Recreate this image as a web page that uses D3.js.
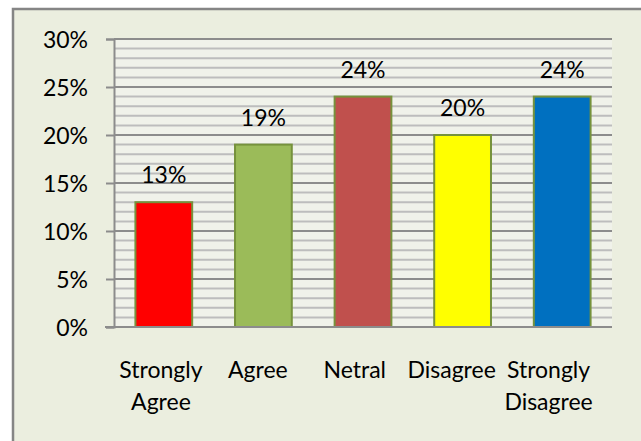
<!DOCTYPE html>
<html><head><meta charset="utf-8">
<script src="https://cdn.jsdelivr.net/npm/d3@7"></script>
<style>html,body{margin:0;padding:0;background:#fff;}svg{display:block;}</style>
</head><body>
<svg id="c" width="641" height="441"></svg>
<script>
const categories = ["Strongly Agree", "Agree", "Netral", "Disagree", "Strongly Disagree"];
const labelLines = [["Strongly", "Agree"], ["Agree"], ["Netral"], ["Disagree"], ["Strongly", "Disagree"]];
const values = [0.13, 0.19, 0.24, 0.20, 0.24];
const colors = ["#FF0000", "#9BBB59", "#C0504D", "#FFFF00", "#0070C0"];
const yTicks = [0, 0.05, 0.10, 0.15, 0.20, 0.25, 0.30];
const minorTicks = d3.range(0, 31).map(d => d / 100);

const svg = d3.select("#c");
const font = "Lato, 'Open Sans', sans-serif";
const fs = 23;

// chart area background and border
svg.append("rect").attr("x", 13).attr("y", 9).attr("width", 640).attr("height", 450)
  .attr("fill", "#EBEEDF").attr("stroke", "#858585").attr("stroke-width", 2.5);

const L = 114, R = 612, T = 39, B = 327;
const x = d3.scaleBand().domain(categories).range([L, R]).paddingInner(0.43).paddingOuter(0.215);
const xl = d3.scaleBand().domain(categories).range([L - 1.5, R - 15]);
const y = d3.scaleLinear().domain([0, 0.30]).range([B, T]);

svg.append("rect").attr("x", L).attr("y", T).attr("width", R - L).attr("height", B - T).attr("fill", "#F0F2EA");

// minor gridlines
svg.append("g").selectAll("line").data(minorTicks.filter(d => Math.round(d * 100) % 5 !== 0)).join("line")
  .attr("x1", L).attr("x2", R).attr("y1", d => y(d)).attr("y2", d => y(d))
  .attr("stroke", "#BDBDBD").attr("stroke-width", 2);
// major gridlines
svg.append("g").selectAll("line").data(yTicks.filter(d => d > 0)).join("line")
  .attr("x1", L).attr("x2", R).attr("y1", d => y(d)).attr("y2", d => y(d))
  .attr("stroke", "#8C8C8C").attr("stroke-width", 2);

// y axis
const yAxis = d3.axisLeft(y).tickValues(yTicks).tickSize(8).tickPadding(18).tickFormat(d3.format(".0%"));
const gy = svg.append("g").attr("transform", `translate(${L},0)`).call(yAxis);
gy.select(".domain").attr("stroke", "#8C8C8C").attr("stroke-width", 2);
gy.selectAll(".tick line").attr("stroke", "#8C8C8C").attr("stroke-width", 2);
gy.selectAll(".tick text").attr("font-family", font).attr("font-size", fs).attr("fill", "#000").attr("dy", "0.36em");

// bars
svg.append("g").selectAll("rect").data(values).join("rect")
  .attr("x", (d, i) => x(categories[i])).attr("width", x.bandwidth())
  .attr("y", d => y(d)).attr("height", d => B - y(d))
  .attr("fill", (d, i) => colors[i]).attr("stroke", "#76923C").attr("stroke-width", 2);

// x axis line
svg.append("line").attr("x1", L - 9).attr("x2", R).attr("y1", B).attr("y2", B)
  .attr("stroke", "#8C8C8C").attr("stroke-width", 2);

// data labels
svg.append("g").selectAll("text").data(values).join("text")
  .attr("x", (d, i) => x(categories[i]) + x.bandwidth() / 2).attr("y", d => y(d) - 19)
  .attr("text-anchor", "middle").attr("font-family", font).attr("font-size", fs)
  .text(d => d3.format(".0%")(d));

// category labels
const cl = svg.append("g").selectAll("text").data(categories).join("text")
  .attr("x", d => xl(d) + xl.bandwidth() / 2).attr("y", 378)
  .attr("text-anchor", "middle").attr("font-family", font).attr("font-size", fs);
cl.selectAll("tspan").data((d, i) => labelLines[i]).join("tspan")
  .attr("x", function () { return d3.select(this.parentNode).attr("x"); })
  .attr("dy", (d, j) => j === 0 ? 0 : 32).text(d => d);
</script>
</body></html>
